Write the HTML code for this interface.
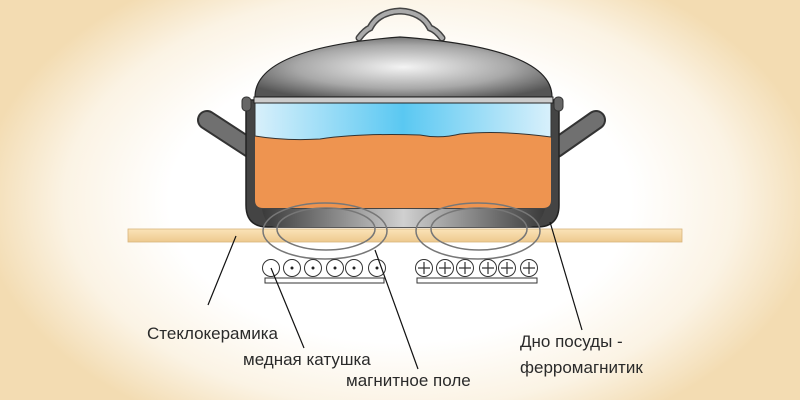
<!DOCTYPE html>
<html><head><meta charset="utf-8"><style>
html,body{margin:0;padding:0;width:800px;height:400px;overflow:hidden}
body{background:radial-gradient(ellipse 420px 260px at 400px 200px,#ffffff 55%,#fbf3e4 80%,#f3dcb2 100%)}
text{font-family:"Liberation Sans","DejaVu Sans",sans-serif;font-size:17px;fill:#2a2a2a}
</style></head><body>
<svg width="800" height="400" viewBox="0 0 800 400" xmlns="http://www.w3.org/2000/svg">
<defs>
<radialGradient id="lid" cx="0.5" cy="0.5" r="0.6">
<stop offset="0" stop-color="#f4f4f4"/><stop offset="0.6" stop-color="#a8a8a8"/><stop offset="1" stop-color="#555"/></radialGradient>
<linearGradient id="water" x1="0" x2="1"><stop offset="0" stop-color="#d8f0fb"/><stop offset="0.5" stop-color="#5ac8f2"/><stop offset="1" stop-color="#d8f0fb"/></linearGradient>
<linearGradient id="bot" x1="0" x2="1"><stop offset="0" stop-color="#3a3a3a"/><stop offset="0.5" stop-color="#d0d0d0"/><stop offset="1" stop-color="#3a3a3a"/></linearGradient>
<linearGradient id="glass" x1="0" x2="0" y1="0" y2="1"><stop offset="0" stop-color="#fbe3b8"/><stop offset="1" stop-color="#eec98e"/></linearGradient>
</defs>
<line x1="207" y1="120" x2="250" y2="148" stroke="#333" stroke-width="20" stroke-linecap="round"/>
<line x1="207" y1="120" x2="250" y2="148" stroke="#707070" stroke-width="16" stroke-linecap="round"/>
<line x1="596" y1="120" x2="556" y2="148" stroke="#333" stroke-width="20" stroke-linecap="round"/>
<line x1="596" y1="120" x2="556" y2="148" stroke="#707070" stroke-width="16" stroke-linecap="round"/>
<path d="M246 100 H559 V205 Q559 227 537 227 H268 Q246 227 246 205 Z" fill="#444" stroke="#222" stroke-width="1.5"/>
<path d="M255 103 H551 V200 Q551 208 543 208 H263 Q255 208 255 200 Z" fill="#ee9450"/>
<path d="M255 103 H551 V137 Q500 130 460 134 Q440 139 420 135 Q360 133 320 139 Q285 141 255 136 Z" fill="url(#water)" stroke="#333" stroke-width="1"/>
<path d="M262 209 H545 Q540 225 530 227 H275 Q265 225 262 209Z" fill="url(#bot)"/>
<rect x="242" y="97" width="9" height="14" rx="4" fill="#666" stroke="#333"/>
<rect x="554" y="97" width="9" height="14" rx="4" fill="#666" stroke="#333"/>
<path d="M359 38 Q365 30 370 28 Q378 12 400 11 Q422 12 430 28 Q436 30 442 38" fill="none" stroke="#444" stroke-width="7" stroke-linecap="round"/>
<path d="M359 38 Q365 30 370 28 Q378 12 400 11 Q422 12 430 28 Q436 30 442 38" fill="none" stroke="#aaa" stroke-width="4" stroke-linecap="round"/>
<path d="M255 97 Q255 48 400 37 Q552 48 552 97 Z" fill="url(#lid)" stroke="#222" stroke-width="1.2"/>
<rect x="254" y="97" width="299" height="6" fill="#ccc" stroke="#222" stroke-width="1"/>
<rect x="128" y="229" width="554" height="13" fill="url(#glass)" stroke="#d8b47c" stroke-width="0.8"/>
<g fill="none" stroke="#777" stroke-width="1.5">
<ellipse cx="325" cy="231" rx="62" ry="28"/><ellipse cx="326" cy="229" rx="49" ry="21"/>
<ellipse cx="478" cy="231" rx="62" ry="28"/><ellipse cx="479" cy="229" rx="48" ry="21"/>
</g>
<g fill="#fff" stroke="#333" stroke-width="1">
<circle cx="271" cy="268" r="8.5"/><circle cx="292" cy="268" r="8.5"/><circle cx="313" cy="268" r="8.5"/><circle cx="335" cy="268" r="8.5"/><circle cx="354" cy="268" r="8.5"/><circle cx="377" cy="268" r="8.5"/>
<circle cx="424" cy="268" r="8.5"/><circle cx="445" cy="268" r="8.5"/><circle cx="465" cy="268" r="8.5"/><circle cx="488" cy="268" r="8.5"/><circle cx="507" cy="268" r="8.5"/><circle cx="529" cy="268" r="8.5"/>
<rect x="265" y="278" width="119" height="5"/><rect x="417" y="278" width="120" height="5"/>
</g>
<g fill="#222"><circle cx="292" cy="268" r="1.5"/><circle cx="313" cy="268" r="1.5"/><circle cx="335" cy="268" r="1.5"/><circle cx="354" cy="268" r="1.5"/><circle cx="377" cy="268" r="1.5"/></g>
<g stroke="#333" stroke-width="1.2">
<path d="M418 268h12M424 262v12M439 268h12M445 262v12M459 268h12M465 262v12M482 268h12M488 262v12M501 268h12M507 262v12M523 268h12M529 262v12"/>
</g>
<g stroke="#111" stroke-width="1.2">
<line x1="236" y1="236" x2="208" y2="305"/>
<line x1="271" y1="268" x2="304" y2="348"/>
<line x1="375" y1="250" x2="418" y2="369"/>
<line x1="550" y1="222" x2="582" y2="330"/>
</g>
<text x="147" y="339">Стеклокерамика</text>
<text x="243" y="365">медная катушка</text>
<text x="346" y="386">магнитное поле</text>
<text x="520" y="347">Дно посуды -</text>
<text x="520" y="373">ферромагнитик</text>
</svg>
</body></html>
